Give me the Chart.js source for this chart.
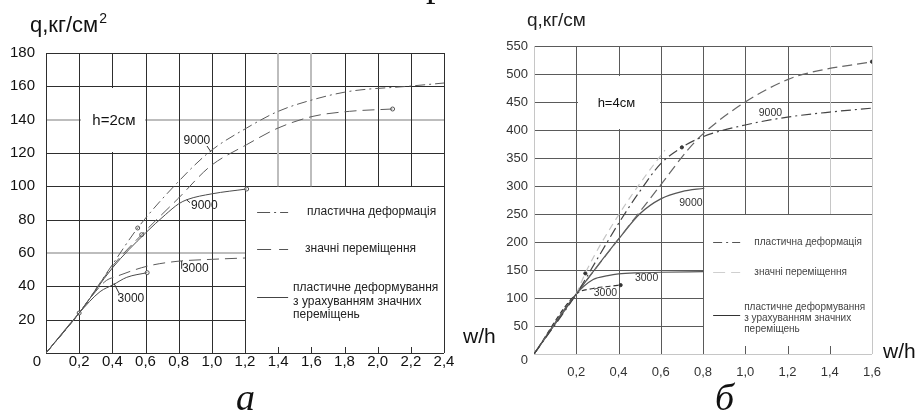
<!DOCTYPE html>
<html>
<head>
<meta charset="utf-8">
<script src="https://cdn.jsdelivr.net/npm/chart.js@4.4.1/dist/chart.umd.min.js"></script>
<style>
  body { margin: 0; background: #fff; width: 922px; height: 410px; overflow: hidden; position: relative; }
  #grafico-a { position: absolute; left: 0; top: 0; }
  #grafico-b { position: absolute; left: 460px; top: 0; }
</style>
</head>
<body>
<canvas id="grafico-a" width="460" height="410"></canvas>
<canvas id="grafico-b" width="462" height="410"></canvas>
<script>
// ---- панель а (h=2см): w/h -> q, кг/см2
const plast9000W = [0, 0.2, 0.4, 0.553, 0.8, 0.99, 1.21, 1.4, 1.61, 1.83, 2.18, 2.4]
const plast9000Q = [0, 24, 53, 75, 103, 121, 135, 145, 152, 157, 160, 162]
const large9000W = [0, 0.2, 0.4, 0.577, 0.8, 0.99, 1.21, 1.4, 1.61, 1.83, 2.09]
const large9000Q = [0, 24, 52, 71, 93, 112, 125, 135, 142, 145, 146.4]
const combo9000W = [0, 0.2, 0.4, 0.6, 0.72, 0.8, 0.85, 1.0, 1.21]
const combo9000Q = [0, 24, 51, 72, 83, 89.5, 92, 95.5, 98.4]
const large3000W = [0, 0.2, 0.3, 0.364, 0.426, 0.607, 0.79, 1.0, 1.2]
const large3000Q = [0, 24, 37, 43.5, 46, 52, 55, 56.2, 57]
const combo3000W = [0, 0.2, 0.326, 0.406, 0.487, 0.61]
const combo3000Q = [0, 24, 36.8, 41, 45.4, 48.2]
const markA_W = [0.2, 0.553, 0.577, 0.61, 1.21, 2.09]
const markA_Q = [24, 75, 71, 48.2, 98.4, 146.4]
const notesA = ['9000', '9000', '3000', '3000']
const notesA_W = [0.91, 0.955, 0.9, 0.512]
const notesA_Q = [127.2, 88.5, 50.4, 32.8]

// ---- панель б (h=4см): w/h -> q, кг/см
const plastB9000W = [0, 0.2, 0.3, 0.4, 0.5, 0.6, 0.7, 0.8, 1.0, 1.2, 1.4, 1.6]
const plastB9000Q = [0, 107, 170, 233, 290, 340, 369, 388, 409, 423, 432, 439]
const largeB9000W = [0, 0.2, 0.4, 0.6, 0.727, 0.8, 1.0, 1.2, 1.3, 1.6]
const largeB9000Q = [0, 107, 205, 302, 364, 393, 450, 490, 502, 522]
const lightB9000W = [0.2, 0.25, 0.4, 0.537, 0.62]
const lightB9000Q = [107, 150, 248, 323, 364]
const comboB9000W = [0, 0.2, 0.3, 0.4, 0.5, 0.6, 0.7, 0.806]
const comboB9000Q = [0, 107, 157, 205, 250, 277, 290, 296]
const upperB3000W = [0, 0.2, 0.28, 0.35, 0.4, 0.5, 0.6, 0.8]
const upperB3000Q = [0, 107, 133, 140, 143, 145, 146, 147]
const lowerB3000W = [0, 0.2, 0.28, 0.36, 0.41]
const lowerB3000Q = [0, 107, 117, 121, 123]
const markB_W = [0.243, 0.41, 0.7, 1.6]
const markB_Q = [144, 123, 369, 522]
const notesB = ['9000', '9000', '3000', '3000']
const notesB_W = [1.119, 0.743, 0.533, 0.338]
const notesB_Q = [430.4, 269.6, 135.7, 108.9]

const pts = (w, q) => w.map((v, i) => ({ x: v, y: q[i] }))
const FONT = '"Liberation Sans", Arial, sans-serif'

const linha = (label, w, q, color, dash, width) => ({
    label, data: pts(w, q), borderColor: color, borderDash: dash, borderWidth: width || 1,
    pointRadius: 0, fill: false, cubicInterpolationMode: 'monotone'
})

const marcas = (w, q, r, fillColor, color) => ({
    type: 'scatter', data: pts(w, q), pointRadius: r, pointBackgroundColor: fillColor,
    pointBorderColor: color, pointBorderWidth: 1
})

const sketch = {
    id: 'sketch',
    beforeDatasetsDraw(chart, args, o) {
        const { ctx, scales: { x, y } } = chart
        const X = v => x.getPixelForValue(v)
        const Y = v => y.getPixelForValue(v)
        ctx.save()
        const seg = (x0, y0, x1, y1, light) => {
            ctx.beginPath()
            ctx.strokeStyle = light ? o.light : o.dark
            ctx.lineWidth = light ? o.lightWidth : o.darkWidth
            const a = ctx.lineWidth % 2 === 1 ? 0.5 : 0
            if (x0 === x1) {
                const px = Math.round(X(x0)) + a
                ctx.moveTo(px, Y(y0)); ctx.lineTo(px, Y(y1))
            } else {
                const py = Math.round(Y(y0)) + a
                ctx.moveTo(X(x0), py); ctx.lineTo(X(x1), py)
            }
            ctx.stroke()
        }
        o.hPart.forEach(v => seg(0, v, o.splitX, v, o.hLight.includes(v)))
        o.hFull.forEach(v => seg(0, v, x.max, v, o.hLight.includes(v)))
        o.vFull.forEach(v => seg(v, 0, v, y.max, o.vLight.includes(v)))
        o.vTop.forEach(v => seg(v, o.splitY, v, y.max, o.vLight.includes(v)))
        // caixa branca do rótulo h=
        const b = o.box
        ctx.fillStyle = '#fff'
        const l = Math.round(X(b[0])) + 2, r = Math.round(X(b[1])) - 1
        const t = Math.round(Y(b[3])) + 2, bt = Math.round(Y(b[2])) - 1
        ctx.fillRect(l, t, r - l, bt - t)
        // marcas curtas no eixo
        ctx.strokeStyle = o.dark
        ctx.lineWidth = 1
        o.ticks.forEach(v => {
            const px = Math.round(X(v)) + 0.5
            ctx.beginPath(); ctx.moveTo(px, Y(0)); ctx.lineTo(px, Y(0) - o.tickLen); ctx.stroke()
        })
        ctx.restore()
    },
    afterDatasetsDraw(chart, args, o) {
        const { ctx, scales: { x, y } } = chart
        const X = v => x.getPixelForValue(v)
        const Y = v => y.getPixelForValue(v)
        ctx.save()
        ctx.textBaseline = 'middle'
        ctx.textAlign = 'center'
        ctx.fillStyle = o.noteColor
        ctx.font = `${o.noteSize}px ${FONT}`
        o.notes.forEach((t, i) => ctx.fillText(t, X(o.notesW[i]), Y(o.notesQ[i])))
        ctx.strokeStyle = '#333'
        ctx.lineWidth = 1
        o.leaders.forEach(s => {
            ctx.beginPath(); ctx.moveTo(X(s[0]), Y(s[1])); ctx.lineTo(X(s[2]), Y(s[3])); ctx.stroke()
        })
        ctx.fillStyle = '#111'
        ctx.font = `${o.hSize}px ${FONT}`
        ctx.fillText(o.hText, X(o.hAt[0]), Y(o.hAt[1]))
        // legenda
        ctx.textAlign = 'left'
        ctx.font = `${o.legendSize}px ${FONT}`
        o.legend.forEach(it => {
            ctx.beginPath()
            ctx.strokeStyle = it.color
            ctx.lineWidth = it.width || 1
            ctx.setLineDash(it.dash)
            const py = Math.round(Y(it.y)) + 0.5
            ctx.moveTo(X(it.x0), py); ctx.lineTo(X(it.x1), py); ctx.stroke()
            ctx.setLineDash([])
            ctx.fillStyle = o.legendColor
            it.lines.forEach((t, i) => ctx.fillText(t, X(it.tx), Y(it.ty[i])))
        })
        // textos soltos
        o.texts.forEach(t => {
            ctx.font = t.font
            ctx.fillStyle = t.color || '#111'
            ctx.textAlign = t.align || 'left'
            ctx.textBaseline = t.base || 'alphabetic'
            ctx.fillText(t.t, t.x, t.y)
            if (t.sup) {
                const w = ctx.measureText(t.t).width
                ctx.font = t.supFont
                ctx.fillText(t.sup, t.x + w + 1, t.y - t.supUp)
            }
        })
        ctx.restore()
    }
}

const decimal = v => v === 0 ? '' : v.toFixed(1).replace('.', ',')

let graficoA = new Chart(document.getElementById('grafico-a'), {
    type: 'line',
    data: {
        datasets: [
            linha('пластична деформація 9000', plast9000W, plast9000Q, '#5a5a5a', [10, 4, 2, 4]),
            linha('значні переміщення 9000', large9000W, large9000Q, '#5a5a5a', [12, 6]),
            linha('пластичне деформування 9000', combo9000W, combo9000Q, '#4a4a4a', []),
            linha('значні переміщення 3000', large3000W, large3000Q, '#5a5a5a', [12, 6]),
            linha('пластичне деформування 3000', combo3000W, combo3000Q, '#4a4a4a', []),
            marcas(markA_W, markA_Q, 2, '#fff', '#555')
        ]
    },
    options: {
        responsive: false,
        animation: false,
        events: [],
        layout: { padding: { top: 53, right: 16, left: 0, bottom: 0 } },
        scales: {
            x: {
                type: 'linear', min: 0, max: 2.4,
                grid: { display: false, drawTicks: false }, border: { display: false },
                ticks: { stepSize: 0.2, maxTicksLimit: 20, padding: 0, maxRotation: 0, autoSkip: false, color: '#111', font: { size: 15, family: FONT }, callback: decimal },
                afterFit: s => { s.height = 57 }
            },
            y: {
                min: 0, max: 180,
                grid: { display: false, drawTicks: false }, border: { display: false },
                ticks: { stepSize: 20, maxTicksLimit: 20, padding: 11, color: '#111', font: { size: 15, family: FONT }, callback: v => v === 0 ? '' : v },
                afterFit: s => { s.width = 46 }
            }
        },
        plugins: {
            legend: { display: false },
            tooltip: { enabled: false },
            sketch: {
                dark: '#2e2e2e', darkWidth: 1, light: '#bdbdbd', lightWidth: 2,
                splitX: 1.2, splitY: 100,
                hFull: [0, 100, 120, 140, 160, 180], hPart: [20, 40, 60, 80], hLight: [140, 60],
                vFull: [0, 0.2, 0.4, 0.6, 0.8, 1.0, 1.2, 2.4], vTop: [1.4, 1.6, 1.8, 2.0, 2.2], vLight: [1.4, 1.6],
                box: [0.2, 0.6, 120, 160],
                ticks: [1.4, 1.6, 1.8, 2.0, 2.2], tickLen: 6,
                notes: notesA, notesW: notesA_W, notesQ: notesA_Q, noteSize: 12, noteColor: '#222',
                leaders: [[0.971, 124.2, 0.995, 120.6], [0.849, 91.8, 0.868, 90.2], [0.818, 55.2, 0.818, 50.5], [0.41, 41.8, 0.442, 35.6]],
                hText: 'h=2см', hAt: [0.41, 139.2], hSize: 15,
                legendSize: 12, legendColor: '#222',
                legend: [
                    { color: '#555', dash: [13, 4, 2, 4], x0: 1.273, x1: 1.46, y: 84.6, tx: 1.574, ty: [84.6], lines: ['пластична деформація'] },
                    { color: '#555', dash: [14, 8], x0: 1.273, x1: 1.46, y: 62.4, tx: 1.562, ty: [62.4], lines: ['значні переміщення'] },
                    { color: '#444', dash: [], x0: 1.273, x1: 1.46, y: 33.6, tx: 1.49, ty: [39, 30.6, 22.8], lines: ['пластичне деформування', 'з урахуванням значних', 'переміщень'] }
                ],
                texts: [
                    { t: 'q,кг/см', x: 30, y: 32, font: `22px ${FONT}`, sup: '2', supFont: `14px ${FONT}`, supUp: 9 },
                    { t: '0', x: 37, y: 362, font: `15px ${FONT}`, align: 'center', base: 'middle' },
                    { t: 'а', x: 236, y: 410, font: `italic 38px "Liberation Serif", serif` },
                    { t: 'р', x: 426, y: -4, font: `38px "Liberation Serif", serif` }
                ]
            }
        }
    },
    plugins: [sketch]
})

let graficoB = new Chart(document.getElementById('grafico-b'), {
    type: 'line',
    data: {
        datasets: [
            linha('пластична деформація 9000', plastB9000W, plastB9000Q, '#444', [10, 4, 2, 4], 1.2),
            linha('значні переміщення 9000', largeB9000W, largeB9000Q, '#666', [10, 5], 1.2),
            linha('значні переміщення', lightB9000W, lightB9000Q, '#c4c4c4', [7, 5], 1.2),
            linha('пластичне деформування 9000', comboB9000W, comboB9000Q, '#555', [], 1.2),
            linha('3000', upperB3000W, upperB3000Q, '#555', [], 1.2),
            linha('3000', lowerB3000W, lowerB3000Q, '#333', [5, 3], 1.2),
            marcas(markB_W, markB_Q, 1.6, '#333', '#333')
        ]
    },
    options: {
        responsive: false,
        animation: false,
        events: [],
        layout: { padding: { top: 46, right: 50, left: 0, bottom: 0 } },
        scales: {
            x: {
                type: 'linear', min: 0, max: 1.6,
                grid: { display: false, drawTicks: false }, border: { display: false },
                ticks: { stepSize: 0.2, maxTicksLimit: 20, padding: 11, maxRotation: 0, autoSkip: false, color: '#333', font: { size: 13, family: FONT }, callback: decimal },
                afterFit: s => { s.height = 56 }
            },
            y: {
                min: 0, max: 550,
                grid: { display: false, drawTicks: false }, border: { display: false },
                ticks: { stepSize: 50, maxTicksLimit: 20, padding: 6, color: '#333', font: { size: 13, family: FONT }, callback: v => v === 0 ? '' : v },
                afterFit: s => { s.width = 74 }
            }
        },
        plugins: {
            legend: { display: false },
            tooltip: { enabled: false },
            sketch: {
                dark: '#5a5a5a', darkWidth: 1, light: '#c6c6c6', lightWidth: 1,
                splitX: 0.8, splitY: 250,
                hFull: [0, 250, 300, 350, 400, 450, 500, 550], hPart: [50, 100, 150, 200], hLight: [0],
                vFull: [0, 0.2, 0.4, 0.6, 0.8, 1.6], vTop: [1.0, 1.2, 1.4], vLight: [0, 1.4, 1.6],
                box: [0.2, 0.6, 400, 500],
                ticks: [1.0, 1.2, 1.4], tickLen: 8,
                notes: notesB, notesW: notesB_W, notesQ: notesB_Q, noteSize: 10.5, noteColor: '#333',
                leaders: [],
                hText: 'h=4см', hAt: [0.39, 447.7], hSize: 13,
                legendSize: 10, legendColor: '#444',
                legend: [
                    { color: '#555', dash: [9, 4, 2, 4], x0: 0.848, x1: 0.976, y: 200, tx: 1.043, ty: [200], lines: ['пластична деформація'] },
                    { color: '#cfcfcf', dash: [12, 6], x0: 0.848, x1: 0.976, y: 146.4, tx: 1.043, ty: [146.4], lines: ['значні переміщення'] },
                    { color: '#333', dash: [], x0: 0.848, x1: 0.976, y: 69.6, tx: 0.995, ty: [84, 64.3, 44.6], lines: ['пластичне деформування', 'з урахуванням значних', 'переміщень'] }
                ],
                texts: [
                    { t: 'q,кг/см', x: 67, y: 26, font: `19px ${FONT}`, color: '#222' },
                    { t: 'w/h', x: 3, y: 343, font: `21px ${FONT}` },
                    { t: 'w/h', x: 423, y: 358, font: `21px ${FONT}` },
                    { t: '0', x: 68, y: 360, font: `13px ${FONT}`, align: 'right', base: 'middle', color: '#333' },
                    { t: 'б', x: 255, y: 410, font: `italic 38px "Liberation Serif", serif` }
                ]
            }
        }
    },
    plugins: [sketch]
})
</script>
</body>
</html>
